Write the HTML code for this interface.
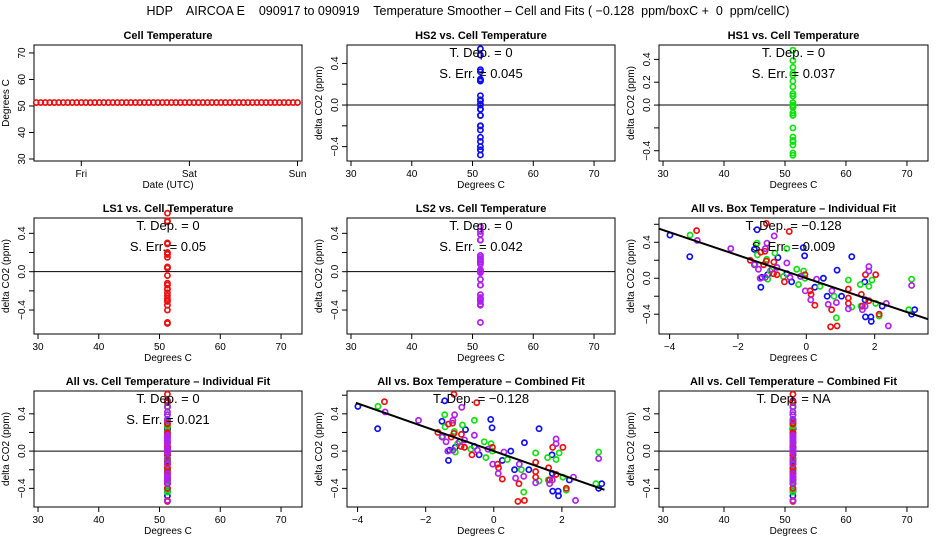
<!DOCTYPE html>
<html><head><meta charset="utf-8"><style>
html,body{margin:0;padding:0;background:#fff;}
svg{display:block;font-family:"Liberation Sans",sans-serif;}
</style></head><body>
<svg id="c" width="936" height="540" viewBox="0 0 936 540">
<text x="468" y="15" text-anchor="middle" font-size="12.5" style="white-space:pre">HDP    AIRCOA E    090917 to 090919    Temperature Smoother – Cell and Fits ( −0.128  ppm/boxC +  0  ppm/cellC)</text>
</svg>
<script>
// ---- data ----
const cellHours=[-10,-9,-8,-7,-6,-5,-4,-3,-2,-1,0,1,2,3,4,5,6,7,8,9,10,11,12,13,14,15,16,17,18,19,20,21,22,23,24,25,26,27,28,29,30,31,32,33,34,35,36,37,38,39,40,41,42,43,44,45,46,47,48];
const cellTemps=[51.3,51.3,51.3,51.3,51.3,51.3,51.3,51.3,51.3,51.3,51.3,51.3,51.3,51.3,51.3,51.3,51.3,51.3,51.3,51.3,51.3,51.3,51.3,51.3,51.3,51.3,51.3,51.3,51.3,51.3,51.3,51.3,51.3,51.3,51.3,51.3,51.3,51.3,51.3,51.3,51.3,51.3,51.3,51.3,51.3,51.3,51.3,51.3,51.3,51.3,51.3,51.3,51.3,51.3,51.3,51.3,51.3,51.3,51.3];
const dayLabels=["Fri","Sat","Sun"];
const dayHours=[0,24,48];
const cellTempOfSeries=51.3;
const blueBox=[-3.99,-3.41,-1.44,-1.52,-1.33,-0.83,-0.09,-0.05,1.33,0.90,0.50,0.25,0.61,1.03,1.72,1.73,1.89,1.90,2.22,3.08,3.17,-1.13,-0.57,-0.43,-1.30,1.71];
const blueD=[0.48,0.24,0.54,0.32,-0.10,0.23,0.34,0.25,0.24,0.09,0.0,-0.10,-0.20,-0.20,-0.24,-0.43,-0.43,-0.48,-0.31,-0.40,-0.35,0.04,0.05,-0.04,0.01,-0.04];
const redBox=[-3.21,-1.17,-1.33,-1.21,-1.17,-1.64,-0.95,-0.86,-0.64,-0.50,-0.04,0.11,0.14,0.25,0.74,0.71,0.90,1.23,1.23,1.23,1.61,1.73,2.03,1.83,2.13,1.64,-1.25,-0.96];
const redD=[0.53,0.61,0.29,0.30,0.19,0.20,0.18,0.04,-0.04,0.52,0.04,-0.14,-0.18,-0.30,-0.35,-0.54,-0.53,-0.12,-0.22,-0.28,-0.18,0.04,0.04,-0.25,-0.40,-0.31,0.15,0.05];
const greenBox=[-3.40,-1.44,-1.43,-0.92,-0.57,-1.16,-1.06,-1.13,-0.28,-0.23,-0.08,-0.04,0.40,0.81,0.88,1.33,1.23,1.58,1.83,1.92,2.03,2.13,3.0,3.08,1.60,-0.67,-1.50];
const greenD=[0.48,0.39,0.26,0.28,0.33,0.21,0.08,-0.01,0.10,-0.07,0.08,0.0,-0.09,-0.20,-0.44,-0.32,-0.02,-0.07,-0.09,-0.02,-0.28,-0.42,-0.35,-0.01,-0.31,0.02,0.16];
const purpleBox=[-3.19,-2.21,-1.15,-0.94,-1.20,-1.35,-1.20,-1.52,-1.40,-1.01,-0.57,-0.48,-0.17,0.30,0.13,-0.03,0.64,0.88,0.75,1.23,1.83,1.83,1.72,1.64,2.34,2.40,3.08,-0.86];
const purpleD=[0.42,0.33,0.39,0.47,0.33,0.0,0.01,0.15,0.10,0.10,0.17,0.01,0.02,-0.01,-0.24,-0.14,-0.29,-0.27,-0.14,-0.34,0.13,0.08,-0.31,-0.35,-0.28,-0.53,-0.08,0.12];
const fitSlope=-0.128;
const fitIntercept=0.0;
const tempTicks=[30,40,50,60,70];
const boxTicks=[-4,-2,0,2];
const cellYTicks=[30,40,50,60,70];

const COL={blue:"#1010ee",red:"#ee1010",green:"#10e010",purple:"#b020f0"};
const NS="http://www.w3.org/2000/svg";
const svg=document.getElementById("c");
function el(tag,attrs,parent,txt){const e=document.createElementNS(NS,tag);for(const k in attrs)e.setAttribute(k,attrs[k]);if(txt!=null)e.textContent=txt;(parent||svg).appendChild(e);return e;}

const cols=[[34,302],[347,615],[659,928]];
const rows=[[45,161],[218,334],[391,507]];

function makePanel(name,ci,ri,xlim,ylim,title){
  const [x0,x1]=cols[ci],[y0,y1]=rows[ri];
  const g=el("g",{},svg);
  
  
  const sx=v=>x0+(v-xlim[0])/(xlim[1]-xlim[0])*(x1-x0);
  const sy=v=>y1-(v-ylim[0])/(ylim[1]-ylim[0])*(y1-y0);
  const t=el("text",{x:(x0+x1)/2,y:y0-6,"text-anchor":"middle","font-size":"11","font-weight":"bold"},g,title);
  
  
  const b=el("rect",{x:x0,y:y0,width:x1-x0,height:y1-y0,fill:"none",stroke:"#000","stroke-width":1},g);
  
  
  return {g,x0,x1,y0,y1,sx,sy};
}
function xAxis(p,ticks,labels,title){
  const a=el("g",{},p.g);
  
  
  el("line",{x1:p.sx(ticks[0]),x2:p.sx(ticks[ticks.length-1]),y1:p.y1,y2:p.y1,stroke:"#000"},a);
  ticks.forEach((v,i)=>{
    el("line",{x1:p.sx(v),x2:p.sx(v),y1:p.y1,y2:p.y1+5,stroke:"#000"},a);
    const l=el("text",{x:p.sx(v),y:p.y1+16,"text-anchor":"middle","font-size":"10"},a,labels[i]);
    
    
  });
  const tt=el("text",{x:(p.x0+p.x1)/2,y:p.y1+27,"text-anchor":"middle","font-size":"10"},a,title);
  
  
}
function yAxis(p,ticks,labels,title){
  const a=el("g",{},p.g);
  
  
  el("line",{x1:p.x0,x2:p.x0,y1:p.sy(ticks[0]),y2:p.sy(ticks[ticks.length-1]),stroke:"#000"},a);
  ticks.forEach((v,i)=>{
    el("line",{x1:p.x0-5,x2:p.x0,y1:p.sy(v),y2:p.sy(v),stroke:"#000"},a);
    if(labels[i]!==""){
      const x=p.x0-9,y=p.sy(v);
      const l=el("text",{x:x,y:y,"text-anchor":"middle","font-size":"10",transform:`rotate(-90 ${x} ${y})`},a,labels[i]);
      
      
    }
  });
  const x=p.x0-25,y=(p.y0+p.y1)/2;
  const tt=el("text",{x:x,y:y,"text-anchor":"middle","font-size":"10",transform:`rotate(-90 ${x} ${y})`},a,title);
  
  
}
function points(p,xs,ys,color,name){
  const g=el("g",{},p.g);
  
  
  xs.forEach((v,i)=>{
    const c=el("circle",{cx:p.sx(v),cy:p.sy(ys[i]),r:2.6,fill:"none",stroke:color,"stroke-width":1.7},g);
    
    
  });
}
function annot(p,lines){
  lines.forEach((s,i)=>{
    const t=el("text",{x:(p.x0+p.x1)/2,y:p.y0+12+i*21,"text-anchor":"middle","font-size":"13"},p.g,s);
    
    
  });
}
function zeroLine(p){
  const l=el("line",{x1:p.x0,x2:p.x1,y1:p.sy(0),y2:p.sy(0),stroke:"#000"},p.g);
  
  
}
function fitLine(p,xa,xb){
  const l=el("line",{x1:p.sx(xa),y1:p.sy(fitIntercept+fitSlope*xa),x2:p.sx(xb),y2:p.sy(fitIntercept+fitSlope*xb),stroke:"#000","stroke-width":2},p.g);
  
  
}
const rep=(arr)=>arr.map(()=>cellTempOfSeries);
const tXlim=[29.34,73.45];
const tL=tempTicks.map(String);
const dT=[-0.4,-0.2,0,0.2,0.4];
const dL=["−0.4","","0.0","","0.4"];
const yT="delta CO2 (ppm)";

// Panel 1
let p=makePanel("cell-temperature-panel",0,0,[-10.5,49],[29.25,73.0],"Cell Temperature");
xAxis(p,dayHours,dayLabels,"Date (UTC)");
yAxis(p,cellYTicks,cellYTicks.map(String),"Degrees C");
points(p,cellHours,cellTemps,"#e81010","cell-temp-series");

// Panel 2 HS2
p=makePanel("hs2-panel",1,0,tXlim,[-0.538,0.577],"HS2 vs. Cell Temperature");
xAxis(p,tempTicks,tL,"Degrees C");yAxis(p,dT,dL,yT);zeroLine(p);
points(p,rep(blueD),blueD,COL.blue,"hs2-points");
annot(p,["T. Dep. =  0","S. Err. =  0.045"]);

// Panel 3 HS1
p=makePanel("hs1-panel",2,0,tXlim,[-0.49,0.526],"HS1 vs. Cell Temperature");
xAxis(p,tempTicks,tL,"Degrees C");yAxis(p,dT,["−0.4","","0.0","0.2","0.4"],yT);zeroLine(p);
points(p,rep(greenD),greenD,COL.green,"hs1-points");
annot(p,["T. Dep. =  0","S. Err. =  0.037"]);

// Panel 4 LS1
p=makePanel("ls1-panel",0,1,tXlim,[-0.65,0.56],"LS1 vs. Cell Temperature");
xAxis(p,tempTicks,tL,"Degrees C");yAxis(p,dT,dL,yT);zeroLine(p);
points(p,rep(redD),redD,COL.red,"ls1-points");
annot(p,["T. Dep. =  0","S. Err. =  0.05"]);

// Panel 5 LS2
p=makePanel("ls2-panel",1,1,tXlim,[-0.65,0.56],"LS2 vs. Cell Temperature");
xAxis(p,tempTicks,tL,"Degrees C");yAxis(p,dT,dL,yT);zeroLine(p);
points(p,rep(purpleD),purpleD,COL.purple,"ls2-points");
annot(p,["T. Dep. =  0","S. Err. =  0.042"]);

// Panel 6 box individual
const bXlim=[-4.31,3.56];
p=makePanel("box-individual-fit-panel",2,1,bXlim,[-0.62,0.67],"All vs. Box Temperature – Individual Fit");
xAxis(p,boxTicks,boxTicks.map(v=>v<0?"−"+(-v):String(v)),"Degrees C");yAxis(p,[-0.4,-0.2,0,0.2,0.4,0.6],["−0.4","","0.0","","0.4",""],yT);
points(p,blueBox,blueD,COL.blue,"hs2-points");points(p,greenBox,greenD,COL.green,"hs1-points");
points(p,redBox,redD,COL.red,"ls1-points");points(p,purpleBox,purpleD,COL.purple,"ls2-points");
fitLine(p,-4.31,3.56);
annot(p,["T. Dep. =  −0.128","S. Err. =  0.009"]);

// Panel 7 cell individual
p=makePanel("cell-individual-fit-panel",0,2,tXlim,[-0.60,0.645],"All vs. Cell Temperature – Individual Fit");
xAxis(p,tempTicks,tL,"Degrees C");yAxis(p,dT,dL,yT);zeroLine(p);
points(p,rep(blueD),blueD,COL.blue,"hs2-points");points(p,rep(greenD),greenD,COL.green,"hs1-points");
points(p,rep(redD),redD,COL.red,"ls1-points");points(p,rep(purpleD),purpleD,COL.purple,"ls2-points");
annot(p,["T. Dep. =  0","S. Err. =  0.021"]);

// Panel 8 box combined
p=makePanel("box-combined-fit-panel",1,2,bXlim,[-0.60,0.645],"All vs. Box Temperature – Combined Fit");
xAxis(p,boxTicks,boxTicks.map(v=>v<0?"−"+(-v):String(v)),"Degrees C");yAxis(p,[-0.4,-0.2,0,0.2,0.4,0.6],["−0.4","","0.0","","0.4",""],yT);
points(p,blueBox,blueD,COL.blue,"hs2-points");points(p,greenBox,greenD,COL.green,"hs1-points");
points(p,redBox,redD,COL.red,"ls1-points");points(p,purpleBox,purpleD,COL.purple,"ls2-points");
fitLine(p,-4.05,3.25);
annot(p,["T. Dep. =  −0.128"]);

// Panel 9 cell combined
p=makePanel("cell-combined-fit-panel",2,2,tXlim,[-0.60,0.645],"All vs. Cell Temperature – Combined Fit");
xAxis(p,tempTicks,tL,"Degrees C");yAxis(p,dT,dL,yT);zeroLine(p);
points(p,rep(blueD),blueD,COL.blue,"hs2-points");points(p,rep(greenD),greenD,COL.green,"hs1-points");
points(p,rep(redD),redD,COL.red,"ls1-points");points(p,rep(purpleD),purpleD,COL.purple,"ls2-points");
annot(p,["T. Dep. =  NA"]);
</script>
</body></html>
